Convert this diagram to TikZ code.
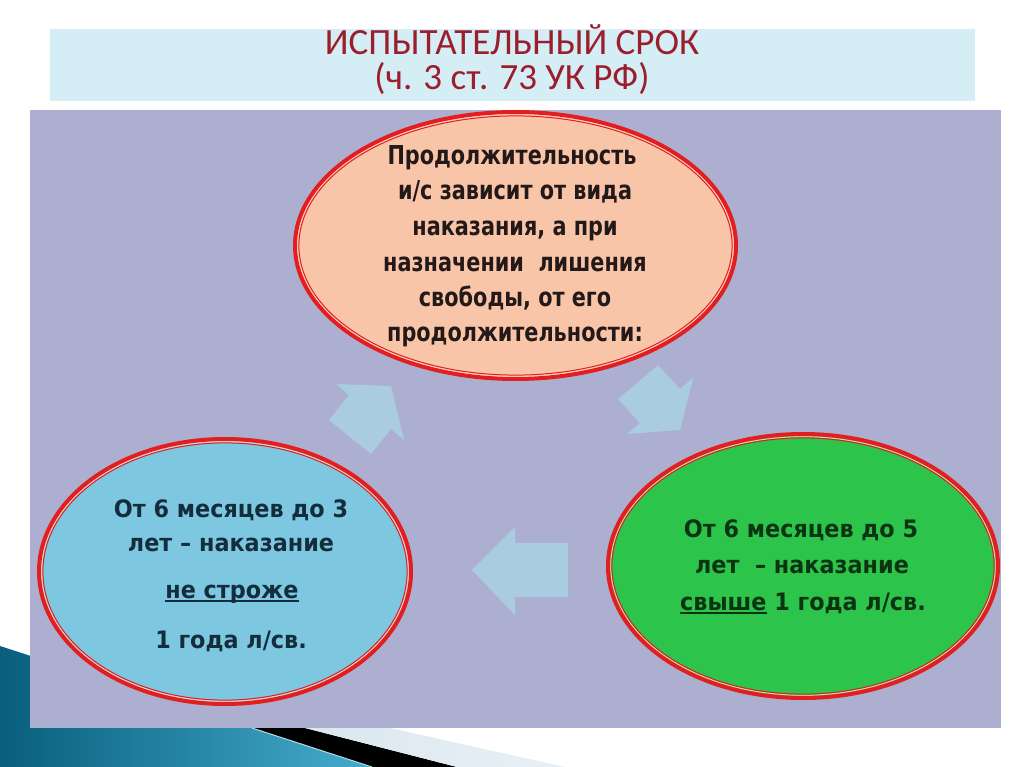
\documentclass[tikz,border=0pt]{standalone}
\usepackage{fontspec}
\usetikzlibrary{shapes.geometric}
\newfontfamily\titlefont{Carlito}
\newfontfamily\ellfont[FakeStretch=0.80]{DejaVu Sans}
\newfontfamily\ellfontw[FakeStretch=0.93]{DejaVu Sans}
\definecolor{titlebg}{RGB}{213,237,244}
\definecolor{titlered}{RGB}{155,30,45}
\definecolor{lavender}{RGB}{173,175,208}
\definecolor{peach}{RGB}{249,197,169}
\definecolor{skyfill}{RGB}{125,200,224}
\definecolor{greenfill}{RGB}{44,196,74}
\definecolor{ringred}{RGB}{226,30,30}
\definecolor{ringpale}{RGB}{250,205,200}
\definecolor{arrowblue}{RGB}{170,204,224}
\definecolor{tealdark}{RGB}{8,95,125}
\definecolor{teallight}{RGB}{70,172,204}
\definecolor{bandlight}{RGB}{218,231,239}
\definecolor{txttop}{RGB}{35,25,25}
\definecolor{txtleft}{RGB}{20,45,60}
\definecolor{txtright}{RGB}{12,52,18}
\newcommand\ulword[1]{\setbox0\hbox{#1}\rlap{\rule[-3.5pt]{\wd0}{1.6pt}}\box0{}}
\tikzset{
  ell/.style={ellipse, draw=ringred, line width=4pt, inner sep=0pt},
  ringpaleline/.style={draw=ringpale, line width=0.9pt},
  ringredline/.style={draw=ringred, line width=1pt},
  lbl/.style={anchor=base, inner sep=0pt, font=\ellfont\bfseries\fontsize{26}{26}\selectfont},
  lblsmall/.style={anchor=base, inner sep=0pt, font=\ellfontw\bfseries\fontsize{24}{24}\selectfont},
  blockarrow/.style={fill=arrowblue, draw=none},
  ttl/.style={anchor=base, inner sep=0pt, text=titlered, font=\titlefont\fontsize{37}{37}\selectfont}
}
\begin{document}
\begin{tikzpicture}[x=1pt,y=-1pt]
\useasboundingbox (0,0) rectangle (1024,767);
\fill[white] (0,0) rectangle (1024,767);
% bottom-left decoration
\shade[left color=tealdark, right color=teallight] (0,646) -- (372,767) -- (0,767) -- cycle;
\fill[black] (252,728) -- (372,767) -- (457,767) -- (305,728) -- cycle;
\draw[white!60!teallight, line width=1pt] (252,728) -- (372,767);
\shade[left color=bandlight, right color=bandlight!60!white] (305,728) -- (457,767) -- (565,767) -- (390,728) -- cycle;
% title box
\fill[titlebg] (50,29) rectangle (975,101);
\node[ttl] (title1) at (512,55) {ИСПЫТАТЕЛЬНЫЙ СРОК};
\node[ttl] (title2) at (512,90) {(ч. 3 ст. 73 УК РФ)};
% main panel
\fill[lavender] (30,110) rectangle (1001,728);
% block arrows
\fill[blockarrow] (329,420) -- (371,454) -- (391,429) -- (404,440) -- (391,386) -- (336,384) -- (349,395) -- cycle;
\fill[blockarrow] (658,365) -- (680,389) -- (693,378) -- (680,430) -- (627,434) -- (640,423) -- (618,399) -- cycle;
\fill[blockarrow] (472,570) -- (515,527) -- (515,543) -- (568,543) -- (568,597) -- (515,597) -- (515,615) -- cycle;
% ellipses
\node[ell, fill=peach, minimum width=441pt, minimum height=267pt] (top) at (515.5,245.5) {};
\draw[ringpaleline] (top.center) ellipse [x radius=217.7pt, y radius=130.7pt];
\draw[ringredline] (top.center) ellipse [x radius=216.6pt, y radius=129.6pt];
\node[ell, fill=skyfill, minimum width=372pt, minimum height=265pt] (left) at (225,571.5) {};
\draw[ringpaleline] (left.center) ellipse [x radius=183.2pt, y radius=129.7pt];
\draw[ringredline] (left.center) ellipse [x radius=182.1pt, y radius=128.6pt];
\node[ell, fill=greenfill, minimum width=390pt, minimum height=264pt] (right) at (803,566) {};
\draw[ringpaleline] (right.center) ellipse [x radius=192.2pt, y radius=129.2pt];
\draw[ringredline] (right.center) ellipse [x radius=191.1pt, y radius=128.1pt];
% top text
\begin{scope}[every node/.style={lbl, text=txttop}]
\node (t1) at (512,165) {Продолжительность};
\node (t2) at (515,200) {и/с зависит от вида};
\node (t3) at (515,235.5) {наказания, а при};
\node (t4) at (515,271) {назначении\ \ лишения};
\node (t5) at (515,306) {свободы, от его};
\node (t6) at (515,341) {продолжительности:};
\end{scope}
% left text
\begin{scope}[every node/.style={lblsmall, text=txtleft}]
\node (l1) at (231,517) {От 6 месяцев до 3};
\node (l2) at (231,551) {лет – наказание};
\node (l3) at (232,598) {\ulword{не строже}};
\node (l4) at (231,648) {1 года л/св.};
\end{scope}
% right text
\begin{scope}[every node/.style={lblsmall, text=txtright}]
\node (r1) at (801,537) {От 6 месяцев до 5};
\node (r2) at (802,573) {лет \ – наказание};
\node (r3) at (803,610) {\ulword{свыше} 1 года л/св.};
\end{scope}
\end{tikzpicture}
\end{document}
